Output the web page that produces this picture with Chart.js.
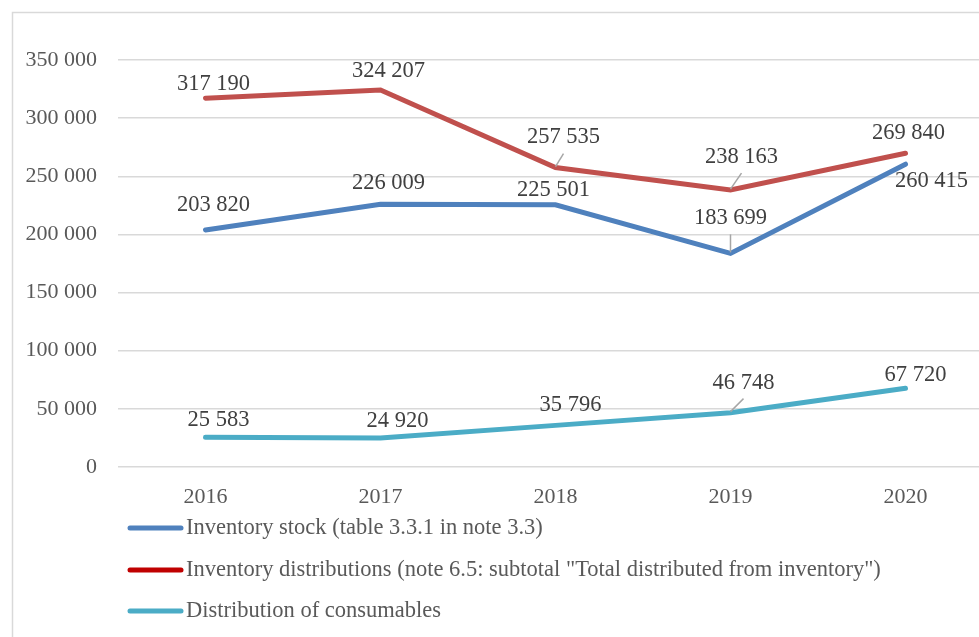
<!DOCTYPE html>
<html>
<head>
<meta charset="utf-8">
<title>Inventory</title>
<script src="https://cdn.jsdelivr.net/npm/chart.js@4"></script>
<style>
  html, body { margin: 0; padding: 0; background: #fff; overflow: hidden; }
  #wrap { position: relative; width: 979px; height: 637px; overflow: hidden; }
  #chart { position: absolute; left: 0; top: 0; }
</style>
</head>
<body>
<div id="wrap"><canvas id="chart" width="1000" height="637"></canvas></div>
<script>
const years = ['2016', '2017', '2018', '2019', '2020'];
const inventoryStock = [203820, 226009, 225501, 183699, 260415];
const inventoryDistributions = [317190, 324207, 257535, 238163, 269840];
const consumables = [25583, 24920, 35796, 46748, 67720];
const yTicks = [0, 50000, 100000, 150000, 200000, 250000, 300000, 350000];

const seriesNames = [
  'Inventory stock (table 3.3.1 in note 3.3)',
  'Inventory distributions (note 6.5: subtotal "Total distributed from inventory")',
  'Distribution of consumables'
];

const FONT = '"Liberation Serif", "Times New Roman", serif';

// thousands separated by a space: 203 820
function fmt(v) {
  return String(v).replace(/\B(?=(\d{3})+(?!\d))/g, ' ');
}

// light frame around the chart
const frame = {
  id: 'frame',
  beforeDraw(chart) {
    const ctx = chart.ctx;
    ctx.save();
    ctx.fillStyle = '#fff';
    ctx.fillRect(0, 0, chart.width, chart.height);
    ctx.strokeStyle = '#d9d9d9';
    ctx.lineWidth = 1.5;
    ctx.strokeRect(12.5, 12.5, 2000, 2000);
    ctx.restore();
  }
};

// value labels, some with a short leader line back to the point
const valueLabels = {
  id: 'valueLabels',
  afterDatasetsDraw(chart) {
    const ctx = chart.ctx;
    ctx.save();
    ctx.font = '22.5px ' + FONT;
    ctx.textAlign = 'center';
    ctx.textBaseline = 'middle';
    chart.data.datasets.forEach((ds, i) => {
      chart.getDatasetMeta(i).data.forEach((pt, j) => {
        const [dx, dy] = ds.labelShift[j];
        const x = pt.x + dx, y = pt.y + dy;
        if (ds.leader[j]) {
          ctx.strokeStyle = '#a6a6a6';
          ctx.lineWidth = 1.5;
          ctx.beginPath();
          ctx.moveTo(pt.x, pt.y - 1);
          ctx.lineTo(x, y + 16);
          ctx.stroke();
        }
        ctx.fillStyle = '#404040';
        ctx.fillText(fmt(ds.data[j]), x, y);
      });
    });
    ctx.restore();
  }
};

// stacked legend under the x axis
const stackedLegend = {
  id: 'stackedLegend',
  afterDraw(chart) {
    const ctx = chart.ctx;
    const rows = [528, 570, 611];
    ctx.save();
    ctx.font = '22.5px ' + FONT;
    ctx.textAlign = 'left';
    ctx.textBaseline = 'middle';
    chart.data.datasets.forEach((ds, i) => {
      const y = rows[i];
      ctx.strokeStyle = ds.legendColor;
      ctx.lineWidth = 5;
      ctx.lineCap = 'round';
      ctx.beginPath();
      ctx.moveTo(130, y);
      ctx.lineTo(181, y);
      ctx.stroke();
      ctx.fillStyle = '#595959';
      ctx.fillText(ds.label, 186, y);
    });
    ctx.restore();
  }
};

function lineSet(label, data, color, legendColor, labelShift, leader) {
  return {
    label, data,
    borderColor: color,
    backgroundColor: color,
    legendColor,
    borderWidth: 5,
    borderCapStyle: 'round',
    pointRadius: 0,
    tension: 0,
    labelShift, leader
  };
}

new Chart(document.getElementById('chart'), {
  type: 'line',
  data: {
    labels: years,
    datasets: [
      lineSet(seriesNames[0], inventoryStock, '#4f81bd', '#4f81bd',
        [[8, -25], [8, -21], [-2, -15], [0, -35], [26, 17]],
        [false, false, false, true, false]),
      lineSet(seriesNames[1], inventoryDistributions, '#c0504d', '#c00000',
        [[8, -14], [8, -19], [8, -30], [11, -33], [3, -20]],
        [false, false, true, true, false]),
      lineSet(seriesNames[2], consumables, '#4bacc6', '#4bacc6',
        [[13, -17], [17, -17], [15, -20], [13, -30], [10, -13]],
        [false, false, false, true, false])
    ]
  },
  options: {
    responsive: false,
    animation: false,
    layout: { padding: { left: 0, top: 60, right: 7, bottom: 0 } },
    plugins: {
      legend: { display: false },
      tooltip: { enabled: false }
    },
    scales: {
      x: {
        offset: true,
        afterFit(scale) { scale.height = 170; },
        grid: { display: false, drawTicks: false },
        border: { display: false },
        ticks: { color: '#595959', font: { family: FONT, size: 22 }, padding: 17 }
      },
      y: {
        min: 0,
        max: yTicks[yTicks.length - 1],
        afterFit(scale) { scale.width = 118; },
        afterBuildTicks(scale) { scale.ticks = yTicks.map(v => ({ value: v })); },
        grid: { color: '#d9d9d9', lineWidth: 1.5, drawTicks: false },
        border: { display: false },
        ticks: {
          color: '#595959',
          font: { family: FONT, size: 22 },
          padding: 21,
          callback: v => fmt(v)
        }
      }
    }
  },
  plugins: [frame, valueLabels, stackedLegend]
});
</script>
</body>
</html>
